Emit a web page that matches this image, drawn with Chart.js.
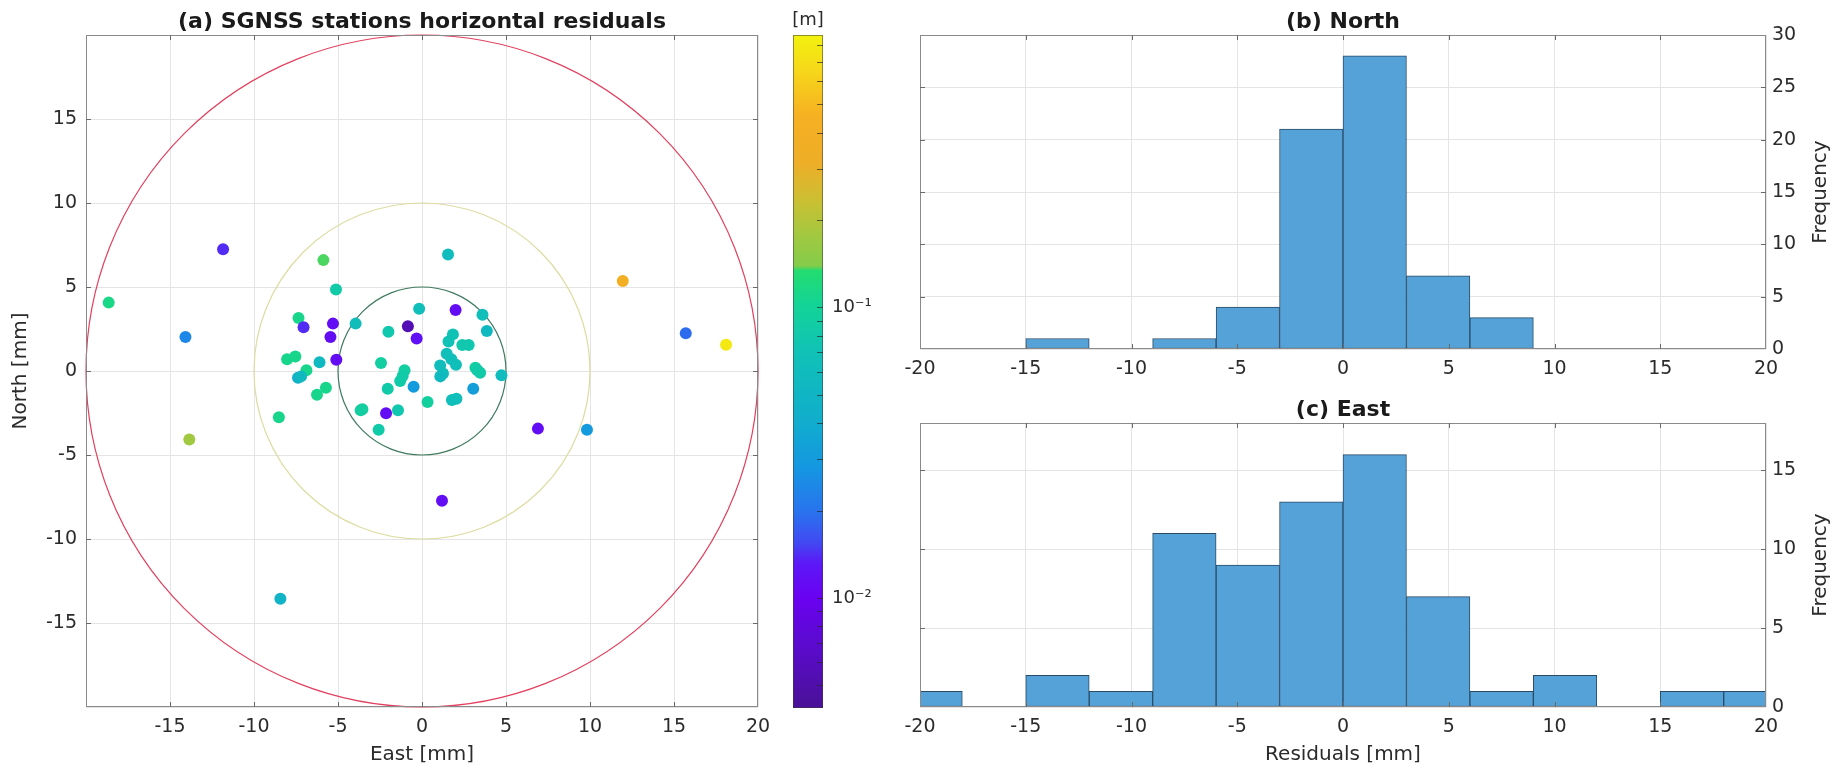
<!DOCTYPE html>
<html lang="en">
<head>
<meta charset="UTF-8">
<title>SGNSS stations horizontal residuals</title>
<script src="https://cdn.jsdelivr.net/npm/chart.js"></script>
<style>
    body {
        margin: 0;
        background-color: #ffffff;
    }
    #figure {
        position: relative;
        width: 1835px;
        height: 770px;
        overflow: hidden;
    }
    canvas {
        position: absolute;
    }
    #scatterChart { left: 0; top: 0; }
    #colorBar { left: 760px; top: 0; }
    #northHist { left: 880px; top: 0; }
    #eastHist { left: 880px; top: 390px; }
</style>
</head>
<body>

<div id="figure">
    <canvas id="scatterChart" width="790" height="770"></canvas>
    <canvas id="colorBar" width="120" height="770"></canvas>
    <canvas id="northHist" width="955" height="390"></canvas>
    <canvas id="eastHist" width="955" height="380"></canvas>
</div>

<script>
    // station residuals: East / North in mm, horizontal residual in m
    const east = [
        -18.65, -14.08, -11.84, -13.85, -8.43, 11.95, 15.70, 18.10, 6.90, 9.82,
        1.19, -8.52, -5.87, 1.55, -5.12, -0.17, 2.00, 3.60, -7.35, -7.05,
        -5.30, -3.95, -0.84, -2.00, 3.86, -5.45, -0.32, 1.84, 1.58, 2.40,
        2.78, -8.03, -7.54, -5.10, -6.10, -2.44, 1.47, 1.75, 2.02, 1.08,
        1.25, 1.09, 3.18, 3.46, 3.30, 4.73, -6.88, -7.38, -7.20, -1.04,
        -1.30, -1.15, -0.50, -2.04, 3.05, -5.72, -6.25, 0.33, 1.78, 2.05,
        -3.65, -3.55, -2.14, -1.43, -2.58
    ];
    const north = [
        4.07, 2.02, 7.25, -4.08, -13.55, 5.36, 2.25, 1.56, -3.43, -3.50,
        -7.72, -2.75, 6.60, 6.93, 4.85, 3.71, 3.63, 3.35, 3.15, 2.60,
        2.82, 2.82, 2.66, 2.33, 2.38, 2.03, 1.93, 2.18, 1.75, 1.55,
        1.55, 0.70, 0.87, 0.67, 0.52, 0.47, 1.02, 0.70, 0.37, 0.33,
        -0.15, -0.32, 0.19, -0.10, 0.05, -0.26, 0.05, -0.40, -0.32, 0.05,
        -0.60, -0.30, -0.94, -1.05, -1.05, -1.00, -1.42, -1.84, -1.72, -1.65,
        -2.33, -2.28, -2.52, -2.34, -3.50
    ];
    const resid = [
        0.115, 0.024, 0.014, 0.175, 0.048, 0.40, 0.019, 0.78, 0.0115, 0.030,
        0.0115, 0.11, 0.136, 0.060, 0.083, 0.066, 0.0115, 0.064, 0.11, 0.014,
        0.0115, 0.062, 0.0055, 0.078, 0.055, 0.0115, 0.012, 0.070, 0.070, 0.078,
        0.078, 0.11, 0.11, 0.0115, 0.055, 0.09, 0.066, 0.066, 0.066, 0.062,
        0.062, 0.055, 0.09, 0.083, 0.083, 0.060, 0.11, 0.045, 0.055, 0.09,
        0.083, 0.083, 0.030, 0.083, 0.032, 0.11, 0.11, 0.095, 0.066, 0.066,
        0.09, 0.09, 0.0115, 0.078, 0.083
    ];

    // histogram bins of 3 mm (centres) and their counts
    const northBinCenters = [-13.5, -10.5, -7.5, -4.5, -1.5, 1.5, 4.5, 7.5];
    const northCounts = [1, 0, 1, 4, 21, 28, 7, 3];
    const eastBinCenters = [-19.5, -16.5, -13.5, -10.5, -7.5, -4.5, -1.5, 1.5, 4.5, 7.5, 10.5, 13.5, 16.5, 19.5];
    const eastCounts = [1, 0, 2, 1, 11, 9, 13, 16, 7, 1, 2, 0, 1, 1];

    // reference circles in mm
    const ringRadii = [5, 10, 20];
    const ringColors = ['#3f7a5e', '#dcdca2', '#e2405e'];

    // colour scale limits (m), logarithmic
    const colorMin = 0.00418;
    const colorMax = 0.867;

    // colormap stops, 0 = bottom of the colour bar, 1 = top
    const cmapStops = [
        [0.000, '#4a1196'],
        [0.090, '#5a0bcc'],
        [0.165, '#6a02f2'],
        [0.215, '#5c18f6'],
        [0.245, '#4248f2'],
        [0.290, '#2a72ee'],
        [0.355, '#1596e2'],
        [0.430, '#10aecc'],
        [0.530, '#10c2b6'],
        [0.600, '#13d496'],
        [0.650, '#24dc70'],
        [0.657, '#84cc4a'],
        [0.705, '#a4c840'],
        [0.755, '#ccbf32'],
        [0.810, '#eeae28'],
        [0.880, '#f6b022'],
        [0.945, '#f6d61a'],
        [1.000, '#f2f20e']
    ];

    const fontFamily = "'DejaVu Sans', 'Liberation Sans', sans-serif";
    const inkColor = '#2b2b2b';
    const gridColor = '#e4e4e4';
    const boxColor = '#8a8a8a';
    const tickFont = { family: fontFamily, size: 19 };
    const labelFont = { family: fontFamily, size: 20 };

    function hexToRgb(hex) {
        const n = parseInt(hex.slice(1), 16);
        return [(n >> 16) & 255, (n >> 8) & 255, n & 255];
    }

    function cmap(t) {
        t = Math.max(0, Math.min(1, t));
        for (let i = 1; i < cmapStops.length; i++) {
            const [t1, c1] = cmapStops[i];
            if (t <= t1) {
                const [t0, c0] = cmapStops[i - 1];
                const f = t1 === t0 ? 0 : (t - t0) / (t1 - t0);
                const a = hexToRgb(c0), b = hexToRgb(c1);
                const rgb = a.map((v, k) => Math.round(v + (b[k] - v) * f));
                return 'rgb(' + rgb.join(',') + ')';
            }
        }
        return cmapStops[cmapStops.length - 1][1];
    }

    function colorFor(value) {
        const lo = Math.log10(colorMin), hi = Math.log10(colorMax);
        return cmap((Math.log10(value) - lo) / (hi - lo));
    }

    // MATLAB-like box with small inward ticks on all four sides
    const boxPlugin = {
        id: 'axesBox',
        afterDraw(chart) {
            const { ctx, chartArea: a, scales } = chart;
            const xs = scales.x, ys = scales.y;
            ctx.save();
            ctx.strokeStyle = boxColor;
            ctx.lineWidth = 1;
            ctx.strokeRect(a.left + 0.5, a.top + 0.5, a.right - a.left - 1, a.bottom - a.top - 1);
            ctx.strokeStyle = '#6a6a6a';
            ctx.beginPath();
            xs.ticks.forEach(t => {
                const px = Math.round(xs.getPixelForValue(t.value)) + 0.5;
                if (px <= a.left + 2 || px >= a.right - 2) return;
                ctx.moveTo(px, a.bottom); ctx.lineTo(px, a.bottom - 5);
                ctx.moveTo(px, a.top); ctx.lineTo(px, a.top + 5);
            });
            ys.ticks.forEach(t => {
                const py = Math.round(ys.getPixelForValue(t.value)) + 0.5;
                if (py <= a.top + 2 || py >= a.bottom - 2) return;
                ctx.moveTo(a.left, py); ctx.lineTo(a.left + 5, py);
                ctx.moveTo(a.right, py); ctx.lineTo(a.right - 5, py);
            });
            ctx.stroke();
            ctx.restore();
        }
    };

    // bold panel title above the plot area, optional rotated label on the right
    const panelTextPlugin = {
        id: 'panelText',
        afterDraw(chart, args, opts) {
            const { ctx, chartArea: a } = chart;
            ctx.save();
            ctx.fillStyle = '#1a1a1a';
            if (opts.title) {
                ctx.font = 'bold 22px ' + fontFamily;
                ctx.textAlign = 'center';
                ctx.textBaseline = 'middle';
                ctx.fillText(opts.title, (a.left + a.right) / 2, a.top - 13);
            }
            if (opts.sideLabel) {
                ctx.font = '20px ' + fontFamily;
                ctx.fillStyle = inkColor;
                ctx.translate(opts.sideX, (a.top + a.bottom) / 2);
                ctx.rotate(-Math.PI / 2);
                ctx.textAlign = 'center';
                ctx.textBaseline = 'middle';
                ctx.fillText(opts.sideLabel, 0, 0);
            }
            ctx.restore();
        }
    };

    // 5, 10 and 20 mm circles around the origin
    const ringsPlugin = {
        id: 'rings',
        beforeDatasetsDraw(chart) {
            const { ctx, scales: { x, y } } = chart;
            const cx = x.getPixelForValue(0), cy = y.getPixelForValue(0);
            ctx.save();
            ctx.lineWidth = 1.2;
            ringRadii.forEach((r, i) => {
                const rx = x.getPixelForValue(r) - cx;
                const ry = cy - y.getPixelForValue(r);
                ctx.strokeStyle = ringColors[i];
                ctx.beginPath();
                ctx.ellipse(cx, cy, rx, ry, 0, 0, Math.PI * 2);
                ctx.stroke();
            });
            ctx.restore();
        }
    };

    // (a) scatter of the horizontal residuals
    new Chart(document.getElementById('scatterChart'), {
        type: 'scatter',
        data: {
            datasets: [{
                data: east.map((e, i) => ({ x: e, y: north[i] })),
                backgroundColor: resid.map(colorFor),
                borderWidth: 0,
                pointRadius: 6,
                pointHoverRadius: 6
            }]
        },
        options: {
            responsive: false,
            animation: false,
            devicePixelRatio: 1,
            layout: { padding: { left: 0, right: 32, top: 35, bottom: 0 } },
            plugins: {
                legend: { display: false },
                tooltip: { enabled: false },
                panelText: { title: '(a) SGNSS stations horizontal residuals' }
            },
            scales: {
                x: {
                    type: 'linear',
                    min: -20,
                    max: 20,
                    grid: { color: gridColor, drawTicks: false },
                    border: { display: false },
                    ticks: {
                        stepSize: 5,
                        padding: 9,
                        maxRotation: 0,
                        font: tickFont,
                        color: inkColor,
                        callback: v => (v === -20 ? '' : v)
                    },
                    title: {
                        display: true,
                        text: 'East [mm]',
                        font: labelFont,
                        color: inkColor,
                        padding: { top: 0, bottom: 3 }
                    },
                    afterFit: s => { s.height = 63; }
                },
                y: {
                    type: 'linear',
                    min: -20,
                    max: 20,
                    grid: { color: gridColor, drawTicks: false },
                    border: { display: false },
                    ticks: {
                        stepSize: 5,
                        padding: 9,
                        font: tickFont,
                        color: inkColor,
                        callback: v => (Math.abs(v) === 20 ? '' : v)
                    },
                    title: {
                        display: true,
                        text: 'North [mm]',
                        font: labelFont,
                        color: inkColor,
                        padding: { top: 9, bottom: 0 }
                    },
                    afterFit: s => { s.width = 86; }
                }
            }
        },
        plugins: [ringsPlugin, boxPlugin, panelTextPlugin]
    });

    // colour bar on a log axis
    function isDecade(v) {
        const l = Math.log10(v);
        return Math.abs(l - Math.round(l)) < 1e-6;
    }
    function isLogStep(v) {
        const p = Math.pow(10, Math.floor(Math.log10(v) + 1e-9));
        const m = v / p;
        return Math.abs(m - Math.round(m)) < 1e-6;
    }
    const superscript = { '-': '\u207B', '1': '\u00B9', '2': '\u00B2', '3': '\u00B3', '0': '\u2070' };

    const colorBarPlugin = {
        id: 'colorBarMarks',
        afterDatasetsDraw(chart) {
            const { ctx, chartArea: a, scales: { y } } = chart;
            ctx.save();
            ctx.strokeStyle = 'rgba(60,60,60,0.55)';
            ctx.lineWidth = 1;
            ctx.strokeRect(a.left + 0.5, a.top + 0.5, a.right - a.left - 1, a.bottom - a.top - 1);
            ctx.strokeStyle = 'rgba(40,40,40,0.7)';
            ctx.beginPath();
            y.ticks.forEach(t => {
                if (!isLogStep(t.value)) return;
                const py = Math.round(y.getPixelForValue(t.value)) + 0.5;
                if (py <= a.top + 1 || py >= a.bottom - 1) return;
                ctx.moveTo(a.right, py);
                ctx.lineTo(a.right - 6, py);
            });
            ctx.stroke();
            ctx.fillStyle = inkColor;
            ctx.font = '18px ' + fontFamily;
            ctx.textAlign = 'center';
            ctx.textBaseline = 'middle';
            ctx.fillText('[m]', (a.left + a.right) / 2, 20);
            ctx.restore();
        }
    };

    new Chart(document.getElementById('colorBar'), {
        type: 'bar',
        data: {
            labels: [''],
            datasets: [{
                data: [[colorMin, colorMax]],
                barPercentage: 1,
                categoryPercentage: 1,
                borderWidth: 0,
                backgroundColor: c => {
                    const a = c.chart.chartArea;
                    if (!a) return '#888888';
                    const g = c.chart.ctx.createLinearGradient(0, a.bottom, 0, a.top);
                    cmapStops.forEach(([t, col]) => g.addColorStop(t, col));
                    return g;
                }
            }]
        },
        options: {
            responsive: false,
            animation: false,
            devicePixelRatio: 1,
            layout: { padding: { left: 33, right: 0, top: 35, bottom: 62 } },
            plugins: { legend: { display: false }, tooltip: { enabled: false } },
            scales: {
                x: { display: false },
                y: {
                    type: 'logarithmic',
                    position: 'right',
                    min: colorMin,
                    max: colorMax,
                    grid: { display: false, drawTicks: false },
                    border: { display: false },
                    ticks: {
                        autoSkip: false,
                        padding: 9,
                        font: { family: fontFamily, size: 18 },
                        color: inkColor,
                        callback: v => {
                            if (!isDecade(v)) return '';
                            const e = String(Math.round(Math.log10(v)));
                            return '10' + e.split('').map(ch => superscript[ch]).join('');
                        }
                    },
                    afterFit: s => { s.width = 57; }
                }
            }
        },
        plugins: [colorBarPlugin]
    });

    // (b) and (c) residual histograms
    function histogramChart(canvasId, centers, counts, yMax, title, withXTitle, pad, xHeight) {
        return new Chart(document.getElementById(canvasId), {
            type: 'bar',
            data: {
                datasets: [{
                    data: centers.map((c, i) => ({ x: c, y: counts[i] })),
                    backgroundColor: '#54a2d8',
                    borderColor: '#2a4b66',
                    borderWidth: c => (c.raw && c.raw.y > 0 ? 1 : 0),
                    borderSkipped: false,
                    barPercentage: 1,
                    categoryPercentage: 1
                }]
            },
            options: {
                responsive: false,
                animation: false,
                devicePixelRatio: 1,
                layout: { padding: pad },
                plugins: {
                    legend: { display: false },
                    tooltip: { enabled: false },
                    panelText: { title: title, sideLabel: 'Frequency', sideX: 941 }
                },
                scales: {
                    x: {
                        type: 'linear',
                        offset: false,
                        min: -20,
                        max: 20,
                        grid: { color: gridColor, drawTicks: false, offset: false },
                        border: { display: false },
                        ticks: {
                            stepSize: 5,
                            padding: 9,
                            maxRotation: 0,
                            font: tickFont,
                            color: inkColor
                        },
                        title: {
                            display: withXTitle,
                            text: 'Residuals [mm]',
                            font: labelFont,
                            color: inkColor,
                            padding: { top: 0, bottom: 3 }
                        },
                        afterFit: s => { s.height = xHeight; }
                    },
                    y: {
                        type: 'linear',
                        position: 'right',
                        min: 0,
                        max: yMax,
                        grid: { color: gridColor, drawTicks: false },
                        border: { display: false },
                        ticks: {
                            stepSize: 5,
                            includeBounds: false,
                            padding: 6,
                            font: tickFont,
                            color: inkColor
                        },
                        afterFit: s => { s.width = 69; }
                    }
                }
            },
            plugins: [boxPlugin, panelTextPlugin]
        });
    }

    histogramChart('northHist', northBinCenters, northCounts, 30, '(b) North', false,
        { left: 40, right: 0, top: 35, bottom: 0 }, 41);
    histogramChart('eastHist', eastBinCenters, eastCounts, 18, '(c) East', true,
        { left: 40, right: 0, top: 33, bottom: 0 }, 63);
</script>

</body>
</html>
